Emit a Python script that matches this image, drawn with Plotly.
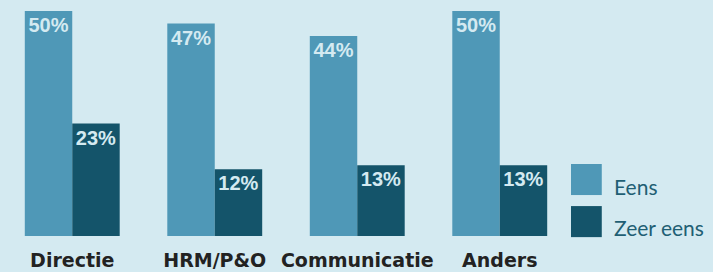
import plotly.graph_objects as go

categories = ["Directie", "HRM/P&O", "Communicatie", "Anders"]
eens = [50, 47, 44, 50]
zeer_eens = [23, 12, 13, 13]
series_names = ["Eens", "Zeer eens"]
axis_min = -4

BG = "#d4eaf1"
LIGHT = "#4f98b7"
DARK = "#14546a"
LABEL_COL = "#d4eaf1"

fig = go.Figure()
for name, vals, col in [(series_names[0], eens, LIGHT), (series_names[1], zeer_eens, DARK)]:
    fig.add_trace(go.Bar(
        x=categories, y=[v - axis_min for v in vals], base=axis_min,
        name=name, marker=dict(color=col, line=dict(width=0)),
        text=[f"{v}%" for v in vals], textposition="inside",
        insidetextanchor="end", textangle=0,
        textfont=dict(family="Liberation Sans", size=20, color=LABEL_COL, weight="bold"),
        showlegend=False, hoverinfo="skip",
    ))

fig.update_layout(
    width=713, height=272,
    paper_bgcolor=BG, plot_bgcolor=BG,
    barmode="group", bargap=0.334, bargroupgap=0,
    margin=dict(l=1, r=142, t=11, b=36, autoexpand=False),
    uniformtext=dict(minsize=20, mode="show"),
    xaxis=dict(showgrid=False, showline=False, zeroline=False, ticks="",
               tickfont=dict(family="DejaVu Sans", size=19, color="#222222", weight="bold"),
               ticklabelstandoff=11),
    yaxis=dict(range=[axis_min, 50], visible=False, showgrid=False, zeroline=False),
)

# custom legend
legend_items = [(series_names[0], LIGHT, 0.32, 0.218), (series_names[1], DARK, 0.133, 0.036)]
for name, col, ytop, ytext in legend_items:
    fig.add_shape(type="rect", xref="paper", yref="paper",
                  x0=1.0, x1=1.054, y0=ytop - 0.138, y1=ytop,
                  fillcolor=col, line=dict(width=0))
    fig.add_annotation(text=name, xref="paper", yref="paper", x=1.072, y=ytext,
                       xanchor="left", yanchor="middle", showarrow=False,
                       font=dict(family="Lato", size=21, color="#1f5f74"))

fig.write_html(
    "out.html",
    config={"displayModeBar": False, "staticPlot": True},
    post_script="document.body.style.margin='0';document.body.style.background='%s';" % BG,
)
